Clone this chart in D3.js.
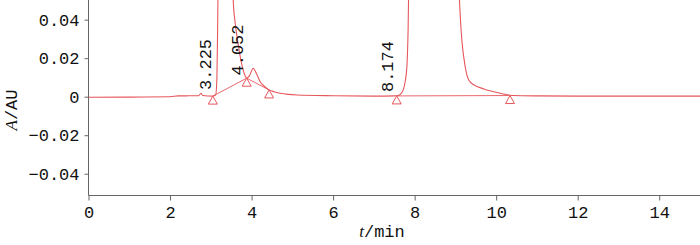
<!DOCTYPE html>
<html>
<head>
<meta charset="utf-8">
<script src="https://cdn.jsdelivr.net/npm/d3@7"></script>
<style>
  body { margin: 0; background: #fff; }
  svg { display: block; }
  .tick text { font-family: "Liberation Mono", monospace; font-size: 17px; fill: #111; }
  .axis path, .axis line { stroke: #666; }
</style>
</head>
<body>
<svg id="chart" width="700" height="245"></svg>
<script>
// chromatogram trace, time in min and absorbance in AU
const times = [0, 1, 2, 2.2, 2.7, 2.76, 2.8, 3.05, 3.12, 3.15, 3.17, 3.19, 3.35, 3.52, 3.55, 3.6, 3.66, 3.72, 3.78, 3.84, 3.88, 3.95, 4.04, 4.12, 4.21, 4.31, 4.41, 4.55, 4.7, 4.9, 5.11, 6, 7, 7.5, 7.59, 7.66, 7.72, 7.77, 7.81, 7.84, 7.87, 8.4, 9.05, 9.1, 9.13, 9.16, 9.24, 9.33, 9.45, 9.7, 10.05, 10.42, 11, 12, 13, 14, 15]
const absorb = [-0.0003, -0.0002, 0.0, 0.0004, 0.0005, 0.0018, 0.0006, 0.0003, 0.001, 0.01, 0.04, 0.08, 0.3, 0.08, 0.05, 0.038, 0.029, 0.021, 0.015, 0.011, 0.0096, 0.011, 0.0148, 0.012, 0.0078, 0.0055, 0.0038, 0.0026, 0.0018, 0.0012, 0.0009, 0.0005, 0.0003, 0.0004, 0.0006, 0.0015, 0.0035, 0.008, 0.0156, 0.035, 0.08, 0.4, 0.08, 0.05, 0.038, 0.029, 0.0156, 0.0085, 0.0062, 0.004, 0.002, 0.0006, 0.0004, 0.0003, 0.0003, 0.0003, 0.0003]

// integration marks (triangles) and their baselines
const markTimes = [3.05, 3.88, 4.43, 7.56, 10.34]
const markValues = [0.0003, 0.0096, 0.0035, 0.0004, 0.0006]
const baseLines = [[0, 1, 2], [3, 4]]

// retention-time labels
const peakNames = ["3.225", "4.052", "8.174"]
const peakLabelTimes = [3.01, 3.79, 7.47]
const peakLabelValues = [0.0035, 0.011, 0.0024]

const xTicks = [0, 2, 4, 6, 8, 10, 12, 14]
const yTicks = [-0.04, -0.02, 0, 0.02, 0.04]

const red = "#e6575c"
const svg = d3.select("#chart")

const x = d3.scaleLinear().domain([0, 15]).range([88.5, 700])
const y = d3.scaleLinear().domain([-0.0513, 0.0502]).range([195.5, 0])

svg.append("defs").append("clipPath").attr("id", "clip")
  .append("rect").attr("x", 88.5).attr("y", 0).attr("width", 612).attr("height", 195.5)

// axes
svg.append("g").attr("class", "axis")
  .attr("transform", "translate(0,195.5)")
  .call(d3.axisBottom(x).tickValues(xTicks).tickSize(5).tickPadding(4).tickFormat(d3.format("d")))
  .call(g => g.select(".domain").attr("d", "M88.5,0H700"))
  .call(g => g.selectAll(".tick text").attr("dy", "0.78em"))

svg.append("g").attr("class", "axis")
  .attr("transform", "translate(88.5,0)")
  .call(d3.axisLeft(y).tickValues(yTicks).tickSize(4).tickPadding(5)
    .tickFormat(d => d === 0 ? "0" : d3.format(".2f")(d).replace("-", "\u2212")))
  .call(g => g.select(".domain").attr("d", "M0,0V195.5"))

// trace
let trace = times.map((t, i) => [t, absorb[i]])
let line = d3.line().x(d => x(d[0])).y(d => y(d[1])).curve(d3.curveMonotoneX)

let plot = svg.append("g").attr("clip-path", "url(#clip)")
plot.append("path")
  .datum(trace)
  .attr("d", line)
  .attr("fill", "none")
  .attr("stroke", red)
  .attr("stroke-width", 1.1)

// baselines between marks
baseLines.forEach(idx => {
  plot.append("path")
    .datum(idx.map(i => [markTimes[i], markValues[i]]))
    .attr("d", d3.line().x(d => x(d[0])).y(d => y(d[1])))
    .attr("fill", "none")
    .attr("stroke", red)
    .attr("stroke-width", 0.9)
})

// triangles
plot.selectAll(".mark")
  .data(markTimes)
  .join("path")
  .attr("class", "mark")
  .attr("d", (t, i) => {
    let px = x(t), py = y(markValues[i])
    return `M${px},${py}L${px + 4.5},${py + 8}L${px - 4.5},${py + 8}Z`
  })
  .attr("fill", "#fff")
  .attr("stroke", red)
  .attr("stroke-width", 1)

// peak labels
svg.selectAll(".peak")
  .data(peakNames)
  .join("text")
  .attr("class", "peak")
  .attr("transform", (d, i) => `translate(${x(peakLabelTimes[i])},${y(peakLabelValues[i])}) rotate(-90)`)
  .style("font-family", "Liberation Mono, monospace")
  .style("font-size", "17px")
  .attr("fill", "#111")
  .text(d => d)

// axis titles
let xTitle = svg.append("text")
  .attr("x", 382).attr("y", 237)
  .attr("text-anchor", "middle")
  .style("font-size", "17px")
  .attr("fill", "#111")
xTitle.append("tspan").style("font-family", "Liberation Serif, serif").style("font-style", "italic").text("t")
xTitle.append("tspan").style("font-family", "Liberation Mono, monospace").text("/min")

let yTitle = svg.append("text")
  .attr("transform", "translate(17,110) rotate(-90)")
  .attr("text-anchor", "middle")
  .style("font-size", "17px")
  .attr("fill", "#111")
yTitle.append("tspan").style("font-family", "Liberation Serif, serif").style("font-style", "italic").text("A")
yTitle.append("tspan").style("font-family", "Liberation Mono, monospace").text("/AU")
</script>
</body>
</html>
